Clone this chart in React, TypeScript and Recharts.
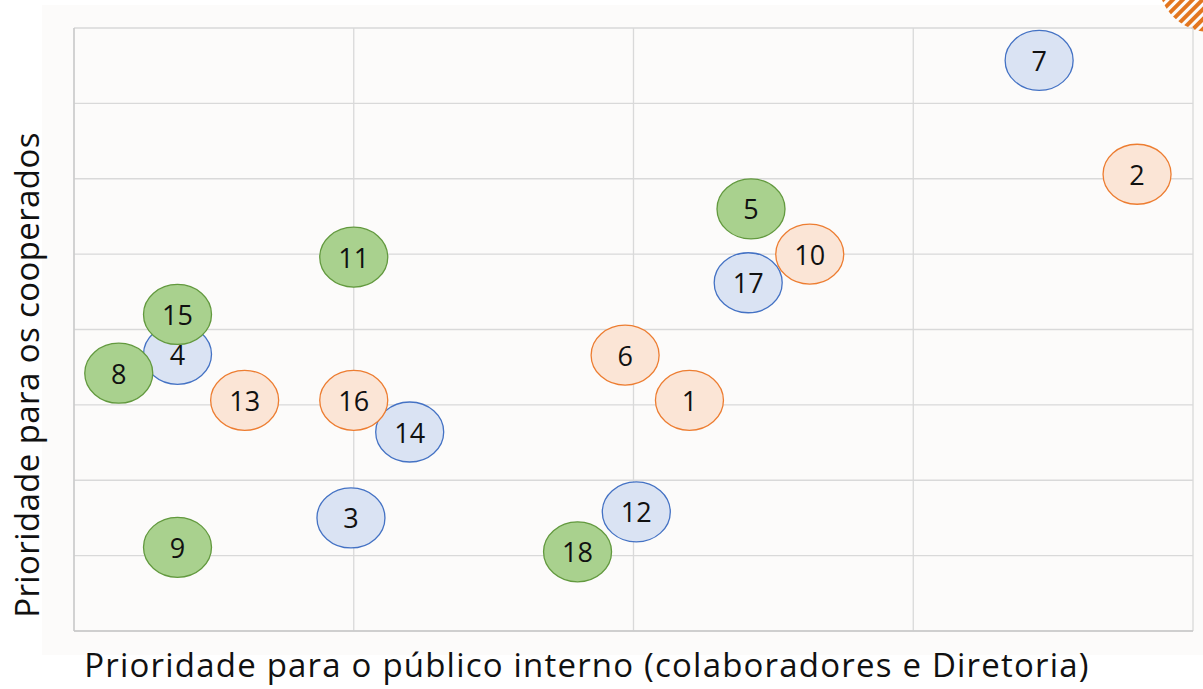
import React from "react";
import {
  ScatterChart,
  Scatter,
  CartesianGrid,
  XAxis,
  YAxis,
} from "recharts";

type Item = { id: number; x: number; y: number };

// values (x: público interno, y: cooperados)
const blueIds = [7, 17, 4, 14, 3, 12];
const blueX = [3.45, 2.41, 0.37, 1.2, 0.99, 2.01];
const blueY = [7.57, 4.62, 3.67, 2.64, 1.5, 1.58];

const orangeIds = [2, 10, 13, 16, 6, 1];
const orangeX = [3.8, 2.63, 0.61, 1.0, 1.97, 2.2];
const orangeY = [6.06, 5.0, 3.06, 3.06, 3.66, 3.06];

const greenIds = [5, 11, 15, 8, 18, 9];
const greenX = [2.42, 1.0, 0.37, 0.16, 1.8, 0.37];
const greenY = [5.6, 4.96, 4.2, 3.42, 1.05, 1.11];

const xTicks = [0, 1, 2, 3, 4];
const yTicks = [0, 1, 2, 3, 4, 5, 6, 7, 8];

const xTitle = "Prioridade para o público interno (colaboradores e Diretoria)";
const yTitle = "Prioridade para os cooperados";

const build = (ids: number[], xs: number[], ys: number[]): Item[] =>
  ids.map((id, i) => ({ id, x: xs[i], y: ys[i] }));

const blue = build(blueIds, blueX, blueY);
const orange = build(orangeIds, orangeX, orangeY);
const green = build(greenIds, greenX, greenY);

const noTick = () => <g />;

const bubble = (fill: string, stroke: string) => (props: any) => {
  const { cx, cy, payload } = props;
  return (
    <g>
      <ellipse cx={cx} cy={cy} rx={34} ry={30} fill={fill} stroke={stroke} strokeWidth={1.3} />
      <text
        x={cx}
        y={cy}
        textAnchor="middle"
        dominantBaseline="central"
        fontFamily="Open Sans"
        fontSize={27}
        fill="#111"
      >
        {payload.id}
      </text>
    </g>
  );
};

const App = () => {
  return (
    <div style={{ position: "absolute", left: 0, top: 0, width: 1203, height: 689, background: "#fff" }}>
      <div
        style={{
          position: "absolute",
          left: 42,
          top: 5,
          width: 1161,
          height: 650,
          background: "#fcfbfa",
        }}
      />
      <svg width={60} height={40} style={{ position: "absolute", left: 1150, top: 0 }}>
        <defs>
          <pattern id="stripes" width="7" height="7" patternUnits="userSpaceOnUse" patternTransform="rotate(45)">
            <rect width="4" height="7" fill="#e3761f" />
          </pattern>
          <clipPath id="corner">
            <circle cx={60} cy={-20} r={52} />
          </clipPath>
        </defs>
        <rect width={60} height={40} fill="url(#stripes)" clipPath="url(#corner)" />
      </svg>
      <div style={{ position: "absolute", left: 0, top: 0 }}>
        <ScatterChart
          width={1203}
          height={689}
          margin={{ top: 28, right: 10, left: 0, bottom: 0 }}
        >
          <CartesianGrid stroke="#d9d9d9" strokeWidth={1.3} />
          <XAxis
            type="number"
            dataKey="x"
            domain={[0, 4]}
            ticks={xTicks}
            tick={noTick}
            tickLine={false}
            axisLine={{ stroke: "#c8c8c8", strokeWidth: 1.3 }}
            height={58}
            label={{
              content: () => (
                <text
                  x={587}
                  y={677}
                  textAnchor="middle"
                  fontFamily="Open Sans"
                  fontSize={33}
                  letterSpacing={1.2}
                  fill="#111"
                >
                  {xTitle}
                </text>
              ),
            }}
          />
          <YAxis
            type="number"
            dataKey="y"
            domain={[0, 8]}
            ticks={yTicks}
            tick={noTick}
            tickLine={false}
            axisLine={{ stroke: "#c8c8c8", strokeWidth: 1.3 }}
            width={74}
            label={{
              content: () => (
                <text
                  x={26}
                  y={375}
                  transform="rotate(-90 26 375)"
                  textAnchor="middle"
                  dominantBaseline="central"
                  fontFamily="Open Sans"
                  fontSize={33}
                  letterSpacing={0.4}
                  fill="#111"
                >
                  {yTitle}
                </text>
              ),
            }}
          />
          <Scatter data={blue} shape={bubble("#dae3f3", "#4472c4")} isAnimationActive={false} />
          <Scatter data={orange} shape={bubble("#fbe5d6", "#ed7d31")} isAnimationActive={false} />
          <Scatter data={green} shape={bubble("#a9d18e", "#62993e")} isAnimationActive={false} />
        </ScatterChart>
      </div>
    </div>
  );
};

export default App;
